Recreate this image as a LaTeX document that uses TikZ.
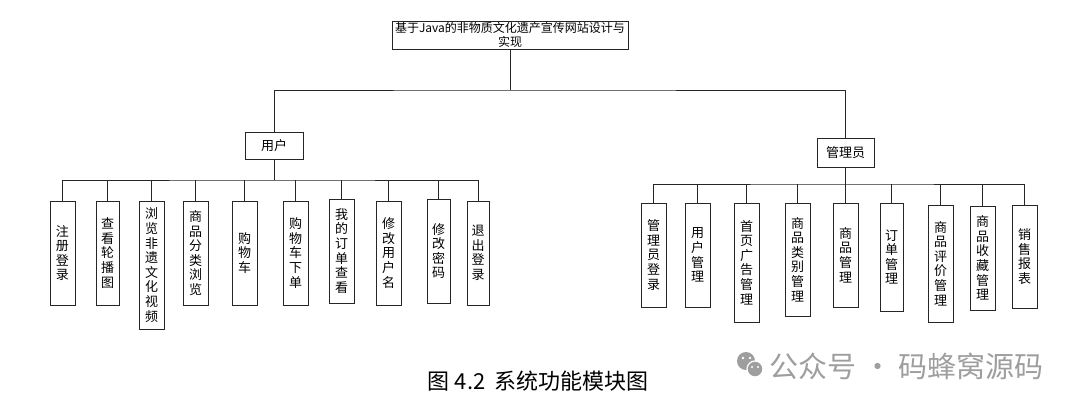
\documentclass[tikz,border=0pt]{standalone}
\usepackage{fontspec}
\setmainfont{Noto Sans CJK SC}
\begin{document}
\begin{tikzpicture}[x=1pt,y=-1pt,
  box/.style={draw=black!85, line width=1pt, inner sep=0pt, align=center, font=\fontsize{13}{14.6}\selectfont},
  link/.style={draw=black!85, line width=1pt},
  wm/.style={text=black!38, font=\fontsize{29}{31}\selectfont}]
\useasboundingbox (0,0) rectangle (1080,408);
\newcommand\modbox[6]{\node[box, minimum width=#4pt, minimum height=#5pt] (#1) at (#2,#3) {#6};}
% top
\node[box, minimum width=236pt, minimum height=28pt, font=\fontsize{12}{13.5}\selectfont] (top) at (510,35) {基于Java的非物质文化遗产宣传网站设计与\\实现};
\node[box, minimum width=58pt, minimum height=27pt] (user) at (274,145.5) {用户};
\node[box, minimum width=57pt, minimum height=29pt] (admin) at (845.5,152.5) {管理员};
\coordinate (j0) at (510,90);
\draw[link] (top.south) -- (j0);
\draw[link] (user.north) |- (j0) -| (admin.north);
% user children
\modbox{u1}{62.5}{253}{25}{104}{注\\册\\登\\录}
\modbox{u2}{107.5}{253}{23}{104}{查\\看\\轮\\播\\图}
\modbox{u3}{151.5}{265}{25}{128}{浏\\览\\非\\遗\\文\\化\\视\\频}
\modbox{u4}{195.5}{253}{25}{104}{商\\品\\分\\类\\浏\\览}
\modbox{u5}{244.5}{253}{25}{104}{购\\物\\车}
\modbox{u6}{295.5}{253}{25}{104}{购\\物\\车\\下\\单}
\modbox{u7}{341.5}{251}{25}{104}{我\\的\\订\\单\\查\\看}
\modbox{u8}{388.5}{253}{25}{104}{修\\改\\用\\户\\名}
\modbox{u9}{438.5}{251}{23}{104}{修\\改\\密\\码}
\modbox{u10}{478}{253}{22}{104}{退\\出\\登\\录}
\coordinate (ub) at (274,180);
\draw[link] (user.south) -- (ub);
\draw[link] (u1.north) |- (ub) -| (u10.north);
\foreach \i in {2,...,9} {\draw[link] (u\i.north) -- (u\i.north |- ub);}
% admin children
\modbox{a1}{653.5}{255}{25}{104}{管\\理\\员\\登\\录}
\modbox{a2}{697.5}{255}{25}{104}{用\\户\\管\\理}
\modbox{a3}{746.5}{262.5}{25}{119}{首\\页\\广\\告\\管\\理}
\modbox{a4}{797.5}{259.5}{25}{113}{商\\品\\类\\别\\管\\理}
\modbox{a5}{845.5}{255}{25}{104}{商\\品\\管\\理}
\modbox{a6}{891.5}{257}{23}{108}{订\\单\\管\\理}
\modbox{a7}{940.5}{263.5}{25}{117}{商\\品\\评\\价\\管\\理}
\modbox{a8}{982.5}{258}{25}{104}{商\\品\\收\\藏\\管\\理}
\modbox{a9}{1024.5}{256.5}{25}{103}{销\\售\\报\\表}
\coordinate (ab) at (845.5,184);
\draw[link] (admin.south) -- (ab);
\draw[link] (a1.north) |- (ab) -| (a9.north);
\foreach \i in {2,...,8} {\draw[link] (a\i.north) -- (a\i.north |- ab);}
% caption
\node[font=\fontsize{22}{24}\selectfont] (cap) at (538,381) {图 4.2\hspace{0.4em}系统功能模块图};
% watermark
\fill[black!38] (746,361) circle (9);
\fill[black!38, draw=white, line width=1.2pt] (755,369) circle (8);
\fill[white] (743,358) circle (1.4) (750,358) circle (1.4) (752,367) circle (1.2) (758,367) circle (1.2);
\node[wm, anchor=west] (wmt) at (766,366) {公众号 · 码蜂窝源码};
\end{tikzpicture}
\end{document}
